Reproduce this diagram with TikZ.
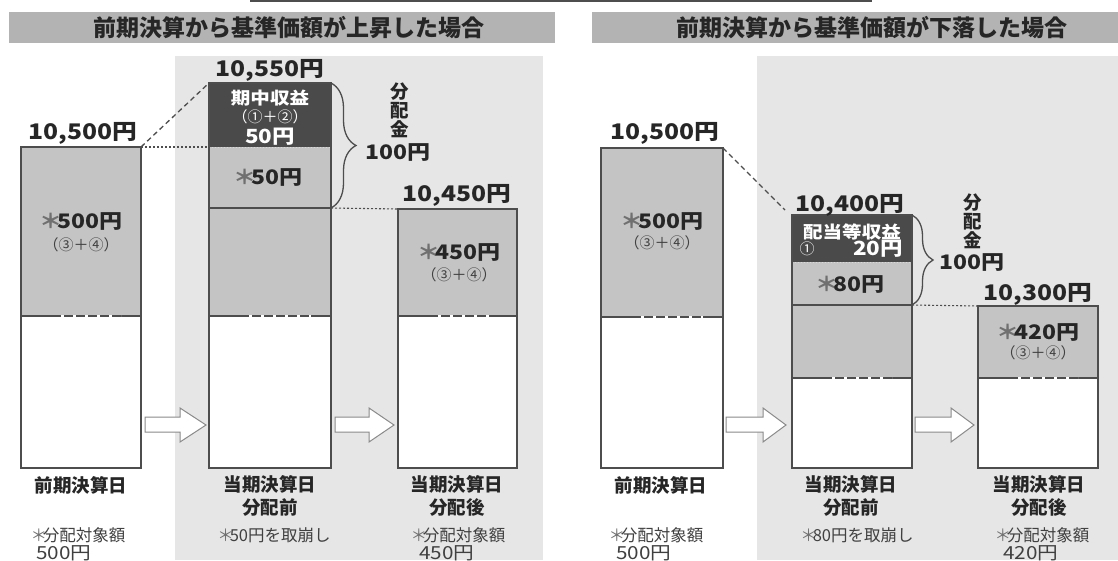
\documentclass[tikz,border=0pt]{standalone}
\usepackage{fontspec}
\setmainfont{Noto Sans CJK JP}
\newfontfamily\jp{Noto Sans CJK JP}
\newfontfamily\jpw{Noto Sans CJK JP}[FakeStretch=1.15]
\usetikzlibrary{decorations.pathreplacing}
\definecolor{panel}{HTML}{E6E6E6}
\definecolor{titlebg}{HTML}{B3B3B3}
\definecolor{midg}{HTML}{C4C4C4}
\definecolor{darkg}{HTML}{4A4A4A}
\definecolor{barc}{HTML}{4D4D4D}
\definecolor{txt}{HTML}{262626}
\definecolor{subt}{HTML}{404040}
\definecolor{astc}{HTML}{707070}
\definecolor{arrc}{HTML}{8A8A8A}
\newcommand\kome{{\color{astc}＊}\kern-.25em}
\tikzset{
  seg/.style={rectangle, inner sep=0, outer sep=0, anchor=north west, draw=none},
  barline/.style={draw=barc, line width=1.5pt},
  splitdash/.style={draw=white, line width=1.2pt, dash pattern=on 3pt off 9pt},
  topdots/.style={draw=white!85!black, line width=1pt, dotted},
  connd/.style={draw=barc, line width=1.3pt, dash pattern=on 5pt off 3.5pt},
  conndot/.style={draw=barc, line width=1.1pt, dash pattern=on 2pt off 2pt},
  bracest/.style={draw=barc, line width=1.3pt, decorate},
  arrowst/.style={draw=arrc, fill=white, line width=1pt, line join=miter},
  ttl/.style={font=\jp\bfseries\fontsize{23}{23}\selectfont, text=txt, inner sep=0},
  big/.style={font=\jpw\bfseries\fontsize{21.5}{22}\selectfont, text=txt, inner sep=0},
  val/.style={font=\jpw\bfseries\fontsize{20}{20}\selectfont, text=txt, inner sep=0},
  sub/.style={font=\jp\fontsize{15}{15}\selectfont, text=subt, inner sep=0},
  wsub/.style={font=\jp\fontsize{15}{15}\selectfont, text=white, inner sep=0},
  wtxt/.style={font=\jpw\bfseries\fontsize{17}{17}\selectfont, text=white, inner sep=0},
  wval/.style={font=\jpw\bfseries\fontsize{19.5}{19.5}\selectfont, text=white, inner sep=0},
  vert/.style={font=\jp\bfseries\fontsize{18.5}{19}\selectfont, text=txt, inner sep=0, align=center},
  lab/.style={font=\jp\bfseries\fontsize{18.5}{23}\selectfont, text=txt, inner sep=0, align=center},
  note/.style={font=\jp\fontsize{16.5}{16.5}\selectfont, text=subt, inner sep=0},
  notev/.style={font=\jpw\fontsize{18}{18}\selectfont, text=subt, inner sep=0},
}
\newcommand\blockarr[3]{\draw[arrowst] (#1,417) -- (#2,417) -- (#2,408) -- (#3,425) -- (#2,442) -- (#2,432) -- (#1,432) -- cycle;}
\begin{document}
\begin{tikzpicture}[x=1pt,y=-1pt]
\useasboundingbox (0,0) rectangle (1118,560);
\fill[white] (0,0) rectangle (1118,560);
% top line
\draw[barc, line width=2pt] (250,1) -- (872,1);
% panels
\fill[panel] (175,56) rectangle (543,560);
\fill[panel] (757,56) rectangle (1118,560);
% title bars
\node[seg, fill=titlebg, minimum width=546pt, minimum height=31pt] (t1bg) at (9,12) {};
\node[seg, fill=titlebg, minimum width=526pt, minimum height=31pt] (t2bg) at (592,12) {};
\node[ttl] (t1) at (289,28) {前期決算から基準価額が上昇した場合};
\node[ttl] (t2) at (872,28) {前期決算から基準価額が下落した場合};

% ---------- left bars ----------
\node[seg, fill=midg, minimum width=120pt, minimum height=169pt] (b1g) at (21,147) {};
\node[seg, fill=white, minimum width=120pt, minimum height=152pt] (b1w) at (21,316) {};
\node[seg, fill=darkg, minimum width=122pt, minimum height=64pt] (b2d) at (209,83) {};
\node[seg, fill=midg, minimum width=122pt, minimum height=61pt] (b2m) at (209,147) {};
\node[seg, fill=midg, minimum width=122pt, minimum height=108pt] (b2g) at (209,208) {};
\node[seg, fill=white, minimum width=122pt, minimum height=152pt] (b2w) at (209,316) {};
\node[seg, fill=midg, minimum width=119pt, minimum height=107pt] (b3g) at (398,209) {};
\node[seg, fill=white, minimum width=119pt, minimum height=152pt] (b3w) at (398,316) {};
% ---------- right bars ----------
\node[seg, fill=midg, minimum width=122pt, minimum height=169pt] (b4g) at (601,148) {};
\node[seg, fill=white, minimum width=122pt, minimum height=151pt] (b4w) at (601,317) {};
\node[seg, fill=darkg, minimum width=120pt, minimum height=47pt] (b5d) at (792,215) {};
\node[seg, fill=midg, minimum width=120pt, minimum height=43pt] (b5m) at (792,262) {};
\node[seg, fill=midg, minimum width=120pt, minimum height=73pt] (b5g) at (792,305) {};
\node[seg, fill=white, minimum width=120pt, minimum height=90pt] (b5w) at (792,378) {};
\node[seg, fill=midg, minimum width=120pt, minimum height=72pt] (b6g) at (978,306) {};
\node[seg, fill=white, minimum width=120pt, minimum height=90pt] (b6w) at (978,378) {};

% inner boundaries
\draw[topdots] (b2m.north west) -- (b2m.north east);
\draw[topdots] (b5m.north west) -- (b5m.north east);
\draw[barline] (b2g.north west) -- (b2g.north east);
\draw[barline] (b5g.north west) -- (b5g.north east);
\foreach \w in {b1w,b2w,b3w,b4w,b5w,b6w}{
  \draw[barline] (\w.north west) -- (\w.north east);
  \draw[splitdash] ([xshift=40pt]\w.north west) -- ([xshift=-20pt]\w.north east);
}
% outlines
\draw[barline] (b1g.north west) rectangle (b1w.south east);
\draw[barline] (b2d.north west) rectangle (b2w.south east);
\draw[barline] (b3g.north west) rectangle (b3w.south east);
\draw[barline] (b4g.north west) rectangle (b4w.south east);
\draw[barline] (b5d.north west) rectangle (b5w.south east);
\draw[barline] (b6g.north west) rectangle (b6w.south east);

% connectors
\draw[connd] (b1g.north east) -- (b2d.north west);
\draw[conndot] (b1g.north east) -- (b2m.north west);
\draw[conndot] (b2g.north east) -- (b3g.north west);
\coordinate (r1) at (785,210);
\draw[connd] (b4g.north east) -- (r1);
\draw[conndot] (b5g.north east) -- (b6g.north west);
% braces
\draw[bracest, decoration={brace, amplitude=25pt}] (b2d.north east) -- (b2m.south east);
\draw[bracest, decoration={brace, amplitude=21pt}] (b5d.north east) -- (b5m.south east);

% block arrows
\blockarr{145}{180}{206}
\blockarr{335}{369}{394}
\blockarr{726}{763}{786}
\blockarr{915}{951}{974}

% ---------- texts left ----------
\node[big] (v1) at (83,133) {10,500円};
\node[big] (v2) at (270,70) {10,550円};
\node[big] (v3) at (457,195) {10,450円};
\node[val] (a1) at (81,222) {\kome500円};
\node[sub] (s1) at (81,245) {（③＋④）};
\node[wtxt] (d1) at (270,98) {期中収益};
\node[wsub] (d2) at (270,117) {（①＋②）};
\node[wval] (d3) at (270,137) {50円};
\node[val] (a2) at (268,178) {\kome50円};
\node[val] (a3) at (459,253) {\kome450円};
\node[sub] (s3) at (459,275) {（③＋④）};
\node[vert] (k1) at (400,110) {分\\配\\金};
\node[val] (h1) at (398,153) {100円};
\node[lab] (l1) at (81,485) {前期決算日};
\node[lab] (l2) at (270,496) {当期決算日\\分配前};
\node[lab] (l3) at (457,496) {当期決算日\\分配後};
\node[note] (n1) at (78,535) {\kome 分配対象額};
\node[notev] (n1b) at (64,553) {500円};
\node[note] (n2) at (274,535) {\kome 50円を取崩し};
\node[note] (n3) at (458,535) {\kome 分配対象額};
\node[notev] (n3b) at (447,553) {450円};

% ---------- texts right ----------
\node[big] (v4) at (665,133) {10,500円};
\node[big] (v5) at (850,205) {10,400円};
\node[big] (v6) at (1038,294) {10,300円};
\node[val] (a4) at (662,222) {\kome500円};
\node[sub] (s4) at (662,243) {（③＋④）};
\node[wtxt] (e1) at (852,232) {配当等収益};
\node[wsub] (e2) at (807,249) {①};
\node[wval] (e3) at (878,249) {20円};
\node[val] (a5) at (850,285) {\kome80円};
\node[val] (a6) at (1038,333) {\kome420円};
\node[sub] (s6) at (1038,353) {（③＋④）};
\node[vert] (k2) at (973,221) {分\\配\\金};
\node[val] (h2) at (972,263) {100円};
\node[lab] (l4) at (661,485) {前期決算日};
\node[lab] (l5) at (851,496) {当期決算日\\分配前};
\node[lab] (l6) at (1039,496) {当期決算日\\分配後};
\node[note] (n4) at (656,535) {\kome 分配対象額};
\node[notev] (n4b) at (644,553) {500円};
\node[note] (n5) at (857,535) {\kome 80円を取崩し};
\node[note] (n6) at (1042,535) {\kome 分配対象額};
\node[notev] (n6b) at (1031,553) {420円};
\end{tikzpicture}
\end{document}
